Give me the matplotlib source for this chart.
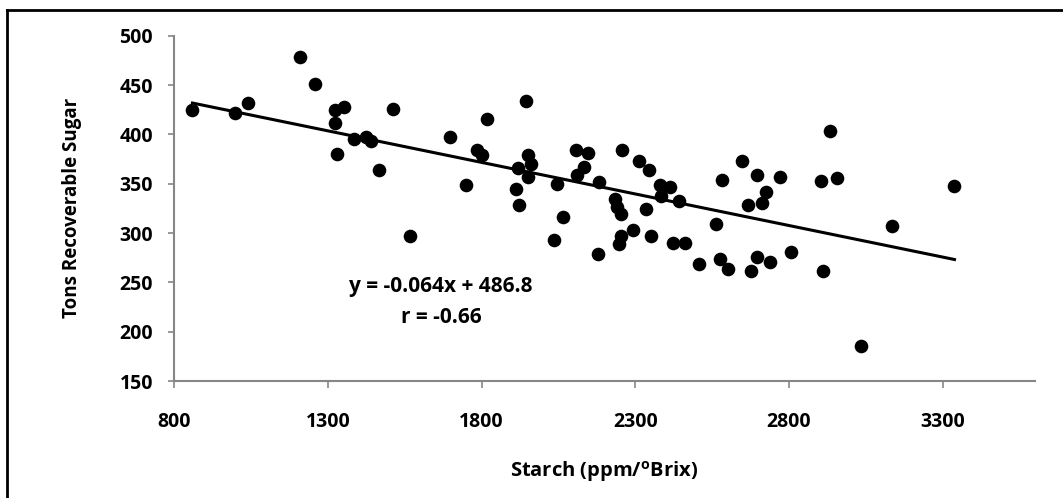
import matplotlib as mpl
import matplotlib.pyplot as plt
from matplotlib.lines import Line2D
import numpy as np

mpl.rcParams['font.family'] = ['Open Sans', 'Liberation Sans', 'DejaVu Sans']
mpl.rcParams['font.weight'] = 'bold'

# starch (ppm/oBrix) vs tons recoverable sugar
starch = [860, 998, 1039, 1209, 1258, 1323, 1353, 1325, 1329, 1385,
          1424, 1439, 1466, 1513, 1569, 1697, 1751, 1786, 1803, 1819,
          1946, 1951, 1962, 1919, 1951, 1911, 1921, 2036, 2065, 2046,
          2106, 2146, 2132, 2111, 2182, 2179, 2257, 2312, 2345, 2233,
          2241, 2252, 2334, 2382, 2414, 2385, 2441, 2293, 2252, 2246,
          2352, 2423, 2463, 2507, 2577, 2601, 2561, 2582, 2648, 2696,
          2769, 2724, 2666, 2712, 2696, 2739, 2675, 2805, 2910, 2903,
          2932, 2956, 3136, 3338, 3035]
sugar = [425, 422, 432, 478, 451, 425, 428, 412, 380, 395,
         397, 393, 364, 426, 297, 397, 349, 384, 379, 416,
         434, 379, 370, 366, 357, 345, 328, 293, 316, 350,
         384, 381, 367, 359, 352, 279, 384, 373, 364, 334,
         326, 319, 324, 349, 347, 338, 332, 303, 297, 289,
         297, 290, 290, 269, 274, 264, 309, 354, 373, 359,
         357, 342, 328, 330, 276, 271, 262, 281, 262, 353,
         403, 356, 307, 348, 186]

slope = -0.064
intercept = 486.8
x_ticks = [800, 1300, 1800, 2300, 2800, 3300]
y_ticks = [150, 200, 250, 300, 350, 400, 450, 500]

fig = plt.figure(figsize=(10.63, 4.98), dpi=100)
ax = fig.add_axes([0.1637, 0.2349, 0.81, 0.6934])

ax.plot(starch, sugar, 'o', color='black', markersize=9.8, markeredgewidth=0)
xl = np.array([min(starch), max(starch)])
ax.plot(xl, slope * xl + intercept, color='black', linewidth=2.2)

ax.set_xlim(800, 3600)
ax.set_ylim(150, 500)
ax.set_xticks(x_ticks)
ax.set_yticks(y_ticks)

for s in ['top', 'right']:
    ax.spines[s].set_visible(False)
for s in ['left', 'bottom']:
    ax.spines[s].set_color('#868686')
    ax.spines[s].set_linewidth(1.5)
ax.tick_params(axis='x', direction='out', length=5, width=1.2, color='#868686',
               pad=17, labelsize=14)
ax.tick_params(axis='y', direction='out', length=4, width=1.2, color='#868686',
               pad=11, labelsize=14)
for lab in ax.get_xticklabels() + ax.get_yticklabels():
    lab.set_fontweight('bold')

ax.set_xlabel('Starch (ppm/$\\mathregular{^o}$Brix)', fontsize=14.5, fontweight='bold',
              labelpad=20)
ax.set_ylabel('Tons Recoverable Sugar', fontsize=13.5, fontweight='bold', labelpad=27)

ax.text(1668, 246, 'y = -0.064x + 486.8', ha='center', va='center',
        fontsize=15, fontweight='bold')
ax.text(1668, 214, 'r = -0.66', ha='center', va='center',
        fontsize=15, fontweight='bold')

# frame around the chart area (cropped on the right and bottom)
fig.add_artist(Line2D([7 / 1063, 7 / 1063], [0, 1 - 10 / 498], color='black',
                      linewidth=2, transform=fig.transFigure))
fig.add_artist(Line2D([7 / 1063, 1], [1 - 10 / 498, 1 - 10 / 498], color='black',
                      linewidth=2, transform=fig.transFigure))

fig.savefig('out.png', dpi=100)
